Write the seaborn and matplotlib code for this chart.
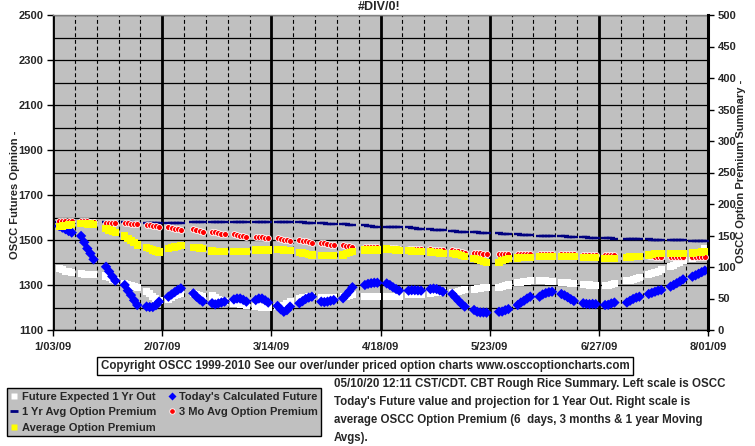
import numpy as np
import pandas as pd
import matplotlib
matplotlib.use("Agg")
import matplotlib.pyplot as plt
from matplotlib.lines import Line2D
import seaborn as sns

# ---------------- data ----------------
first_day = "2009-01-05"
last_day = "2009-07-31"
holidays = ["2009-01-19", "2009-02-16", "2009-04-10", "2009-05-25", "2009-07-03"]

x_major_dates = ["2009-01-03", "2009-02-07", "2009-03-14", "2009-04-18",
                 "2009-05-23", "2009-06-27", "2009-08-01"]
x_tick_labels = ["1/03/09", "2/07/09", "3/14/09", "4/18/09", "5/23/09", "6/27/09", "8/01/09"]

# weekly blocks of daily values (trading days only)
todays_future = [
    [1562, 1555, 1548, 1540, 1533], [1518, 1490, 1462, 1440, 1414], [1381, 1360, 1338, 1319],
    [1300, 1275, 1255, 1232, 1211], [1204, 1202, 1202, 1210, 1226], [1248, 1258, 1268, 1278, 1285],
    [1263, 1248, 1236, 1226], [1219, 1214, 1218, 1222, 1226], [1236, 1240, 1240, 1234, 1226],
    [1233, 1240, 1240, 1232, 1222], [1207, 1192, 1181, 1188, 1204], [1219, 1228, 1238, 1244, 1248],
    [1226, 1224, 1226, 1230, 1233], [1241, 1256, 1272, 1290], [1300, 1305, 1308, 1310, 1310],
    [1307, 1300, 1290, 1282, 1275], [1275, 1277, 1277, 1276, 1275], [1282, 1284, 1282, 1276, 1270],
    [1260, 1245, 1230, 1216, 1204], [1189, 1181, 1178, 1178, 1177], [1181, 1182, 1188, 1193],
    [1211, 1222, 1230, 1240, 1248], [1248, 1258, 1264, 1268, 1270], [1260, 1254, 1246, 1237, 1229],
    [1219, 1216, 1215, 1216, 1215], [1211, 1212, 1218, 1222], [1222, 1230, 1238, 1244, 1248],
    [1260, 1265, 1270, 1275, 1278], [1293, 1300, 1308, 1316, 1325], [1337, 1343, 1350, 1357, 1364],
]
future_1yr = [
    [1372, 1368, 1362, 1358, 1355], [1350, 1348, 1348, 1348, 1348], [1340, 1333, 1326, 1319],
    [1307, 1303, 1298, 1294, 1290], [1273, 1262, 1250, 1240, 1233], [1236, 1244, 1252, 1258, 1263],
    [1263, 1258, 1252, 1248], [1251, 1244, 1236, 1230, 1226], [1219, 1217, 1215, 1213, 1211],
    [1204, 1203, 1202, 1201, 1200], [1204, 1204, 1210, 1218, 1226], [1241, 1243, 1245, 1247, 1248],
    [1244, 1244, 1244, 1244, 1244], [1248, 1250, 1253, 1256], [1248, 1248, 1248, 1248, 1248],
    [1248, 1249, 1250, 1250, 1251], [1256, 1257, 1258, 1259, 1260], [1263, 1265, 1266, 1268, 1270],
    [1265, 1268, 1272, 1275, 1278], [1281, 1283, 1285, 1288, 1290], [1290, 1293, 1297, 1300],
    [1310, 1312, 1314, 1316, 1318], [1320, 1319, 1318, 1316, 1315], [1312, 1311, 1310, 1308, 1307],
    [1304, 1302, 1300, 1298, 1296], [1296, 1299, 1303, 1307], [1318, 1322, 1326, 1330, 1334],
    [1348, 1352, 1357, 1362, 1367], [1381, 1388, 1395, 1402, 1408], [1419, 1428, 1438, 1450, 1460],
]
prem_1yr = [
    [171, 171, 171, 171, 171], [171, 171, 171, 171, 171], [171, 171, 171, 171],
    [171, 171, 171, 170.5, 170.5], [170, 170, 170, 170, 170], [170, 170, 170.5, 170.5, 170.5],
    [171, 171, 171, 171], [171.5, 171.5, 171.5, 171.5, 171.5], [171.5, 171.5, 171.5, 171.5, 171.5],
    [171.5, 171.5, 171.5, 171.5, 171.5], [171.5, 171.5, 171.5, 171.5, 171.5], [171.5, 171, 170.5, 170.5, 170],
    [170, 169.5, 169, 168.5, 168], [168, 167.5, 167, 166.5], [166, 165.5, 165, 164, 163.5],
    [164, 164, 163.5, 163.5, 163], [163, 162, 161.5, 161, 160.5], [160, 159.5, 159, 158.5, 158],
    [157, 156.5, 156, 155.5, 155], [155, 155, 154.5, 154, 154], [153.5, 153, 152.5, 152],
    [152, 151.5, 151, 151, 150.5], [149.5, 149, 149, 149, 148.7], [149, 148.5, 148, 148, 147.6],
    [147.6, 147, 146.5, 146, 146], [146, 145.5, 145.5, 145], [145, 144.5, 144.5, 144, 144],
    [144, 143.5, 143.5, 143, 143], [143, 143, 143, 143, 143], [142, 142, 142, 142, 142],
]
prem_3mo = [
    [173, 173, 173, 172.5, 172.5], [173, 173, 172.5, 172, 172], [170.5, 170.5, 170, 170],
    [169.5, 169.5, 169, 169, 169], [167, 166, 165, 164.5, 164], [163, 162, 161, 160, 159],
    [160, 158, 156.5, 155], [156, 155, 154, 153, 152.4], [152, 151, 150, 149, 148],
    [148, 147.5, 147, 146.5, 146], [145.5, 144.5, 143.5, 142.5, 142], [143, 142, 141, 140, 138.6],
    [138.6, 137.5, 136.5, 135.5, 135], [135, 134, 133, 132], [132, 131.5, 131.5, 131, 131],
    [130, 130, 129.5, 129.5, 129], [129, 128.5, 128.5, 128, 128], [128, 127.5, 127.5, 127, 127],
    [127, 126, 125, 124, 123], [123, 122.5, 122, 121, 120.6], [120.6, 120.6, 120.6, 120.6],
    [120.6, 120.6, 120.6, 120.6, 120.6], [120.5, 120.5, 120.5, 120.5, 120.5], [120, 120, 120, 120, 120],
    [119.5, 119.5, 119, 119, 119], [118.7, 118.7, 118.7, 118.7], [118, 118, 117.5, 117.5, 117.5],
    [117, 117, 116.5, 116.5, 116.5], [116.5, 116.5, 116.5, 116.5, 116.5], [116.5, 116.5, 116.5, 116.5, 116.5],
]
prem_avg = [
    [164, 165, 166, 166.5, 167], [169.5, 169, 168.5, 168, 167], [161, 159, 157, 155],
    [149, 145.5, 142, 138.5, 135], [131, 129, 127, 125.5, 124], [129.6, 131, 132, 133, 134],
    [131, 130.5, 130, 129], [125.6, 125, 125, 125, 125], [125, 125, 125, 125, 125],
    [127, 127, 127, 127, 127], [128, 127.5, 127, 126.5, 126], [122.8, 122, 121, 120, 119],
    [118, 118, 118, 118, 118], [118.8, 121, 123, 125], [127, 127, 127, 127, 127],
    [128.6, 128, 127.5, 127, 126.5], [126, 125.5, 125, 124.6, 124.6], [124, 123.5, 123, 122, 121.5],
    [121.6, 120.5, 119.5, 118, 117], [114, 112, 110, 108.5, 107.5], [107.5, 110, 112, 114],
    [114.5, 115, 115, 115, 115.5], [116.5, 116.5, 116.5, 116.5, 116.5], [116.5, 116.5, 116.5, 116.5, 116.5],
    [115.5, 115, 115, 115, 115], [114, 114, 114, 114], [115.5, 116, 116.5, 117, 117],
    [119, 120, 121, 121, 121], [121.6, 121.6, 121.6, 121.6, 121.6], [122, 122.5, 123, 124, 124.6],
]

series_names = ["Future Expected 1 Yr Out", "Today's Calculated Future",
                "1 Yr Avg Option Premium", "3 Mo Avg Option Premium", "Average Option Premium"]

title_text = "#DIV/0!"
left_label = "OSCC Futures Opinion -"
right_label = "OSCC Option Premium Summary -"
copyright_text = "Copyright OSCC 1999-2010 See our over/under priced option charts www.osccoptioncharts.com"
note_lines = ["05/10/20 12:11 CST/CDT. CBT Rough Rice Summary. Left scale is OSCC",
              "Today's Future value and projection for 1 Year Out. Right scale is",
              "average OSCC Option Premium (6  days, 3 months & 1 year Moving",
              "Avgs)."]

# ---------------- build table ----------------
days = pd.bdate_range(first_day, last_day)
days = days[~days.isin(pd.to_datetime(holidays))]

def flat(blocks):
    return [v for wk in blocks for v in wk]

df = pd.DataFrame({
    "date": days,
    "fut1yr": flat(future_1yr),
    "today": flat(todays_future),
    "p1yr": flat(prem_1yr),
    "p3mo": flat(prem_3mo),
    "pavg": flat(prem_avg),
})

# ---------------- figure ----------------
sns.set_theme(style="white")
plt.rcParams["font.family"] = ["Liberation Sans", "DejaVu Sans"]
plt.rcParams["font.weight"] = "bold"
FS = 8.0
FS_TXT = 8.3

W, H = 755, 446
fig = plt.figure(figsize=(W / 100, H / 100), dpi=100)
fig.patch.set_facecolor("white")
ax = fig.add_axes([53 / W, 1 - 330 / H, 655 / W, 315 / H])
ax.set_facecolor("#C0C0C0")
ax2 = ax.twinx()

# left axis series
sns.scatterplot(data=df, x="date", y="fut1yr", ax=ax, marker="s", s=26, color="white",
                edgecolor="none", linewidth=0, zorder=3, legend=False)
sns.scatterplot(data=df, x="date", y="today", ax=ax, marker="D", s=28, color="#0000FF",
                edgecolor="none", linewidth=0, zorder=4, legend=False)
# right axis series
sns.scatterplot(data=df, x="date", y="p1yr", ax=ax2, marker="_", s=40, color="#000080",
                linewidth=1.7, zorder=3, legend=False)
sns.scatterplot(data=df, x="date", y="p3mo", ax=ax2, marker="o", s=18, color="#FF0000",
                edgecolor="white", linewidth=0.6, zorder=4, legend=False)
sns.scatterplot(data=df, x="date", y="pavg", ax=ax2, marker="s", s=28, color="#FFFF00",
                edgecolor="none", linewidth=0, zorder=5, legend=False)

xmaj = pd.to_datetime(x_major_dates)
ax.set_xlim(xmaj[0], xmaj[-1])
ax.set_ylim(1100, 2500)
ax2.set_ylim(0, 500)

ax.set_xticks(xmaj)
ax.set_xticklabels(x_tick_labels)
weekly = pd.date_range(xmaj[0], xmaj[-1], freq="7D")
ax.set_xticks([d for d in weekly if d not in set(xmaj)], minor=True)
ax.set_yticks(np.arange(1100, 2501, 200))
ax.set_yticks(np.arange(1200, 2500, 200), minor=True)
ax2.set_yticks(np.arange(0, 501, 50))

ax.set_axisbelow(True)
ax.grid(which="major", axis="x", color="black", lw=2.0)
ax.grid(which="minor", axis="x", color="black", lw=0.8, ls=(0, (3.5, 2.5)))
ax.grid(which="both", axis="y", color="black", lw=0.9)

ax.tick_params(axis="x", which="major", direction="out", length=4, width=1, color="black",
               labelsize=FS, pad=5, bottom=True)
ax.tick_params(axis="x", which="minor", length=0)
ax.tick_params(axis="y", which="major", direction="out", length=4, width=1, color="black",
               labelsize=FS, pad=3, left=True)
ax.tick_params(axis="y", which="minor", length=0)
ax2.tick_params(axis="y", direction="out", length=4, width=1, color="black",
                labelsize=FS, pad=3, right=True)
for lab in ax.get_xticklabels() + ax.get_yticklabels() + ax2.get_yticklabels():
    lab.set_fontweight("bold")

ax.set_xlabel("")
ax.set_ylabel("")
ax2.set_ylabel("")

for s in ["left", "bottom"]:
    ax.spines[s].set_color("black")
    ax.spines[s].set_linewidth(1)
ax.spines["top"].set_color("#808080")
ax.spines["top"].set_linewidth(1)
ax.spines["right"].set_visible(False)
for s in ["left", "bottom", "top"]:
    ax2.spines[s].set_visible(False)
ax2.spines["right"].set_color("black")
ax2.spines["right"].set_linewidth(2.2)

# texts
fig.text(379 / W, 1 - 7.5 / H, title_text, ha="center", va="center", fontsize=9, fontweight="bold")
fig.text(15 / W, 1 - 195 / H, left_label, rotation=90, ha="center", va="center",
         fontsize=FS, fontweight="bold")
fig.text(741 / W, 1 - 171 / H, right_label, rotation=90, ha="center", va="center",
         fontsize=FS, fontweight="bold")
fig.text(365 / W, 1 - 366 / H, copyright_text, ha="center", va="center", fontsize=FS_TXT,
         fontweight="bold",
         bbox=dict(boxstyle="square,pad=0.3", fc="white", ec="black", lw=1))
fig.text(334 / W, 1 - 378 / H, "\n".join(note_lines), ha="left", va="top", fontsize=FS_TXT,
         fontweight="bold", linespacing=1.68)

# legend
handles = [
    Line2D([], [], ls="none", marker="s", ms=5, mfc="white", mec="none"),
    Line2D([], [], ls="none", marker="_", ms=6, mec="#000080", mew=2),
    Line2D([], [], ls="none", marker="s", ms=5, mfc="#FFFF00", mec="none"),
    Line2D([], [], ls="none", marker="D", ms=4, mfc="#0000FF", mec="none"),
    Line2D([], [], ls="none", marker="o", ms=4, mfc="#FF0000", mec="white", mew=0.6),
]
labels = [series_names[0], series_names[2], series_names[4], series_names[1], series_names[3]]
leg = fig.legend(handles, labels, ncol=2, loc="upper left", bbox_to_anchor=(7 / W, 1 - 388 / H),
                 frameon=True, fancybox=False, framealpha=1, facecolor="#C0C0C0",
                 edgecolor="black", borderpad=0.32, handlelength=0.7, handletextpad=0.3,
                 columnspacing=1.05, labelspacing=0.5, prop={"size": 8.0, "weight": "bold"},
                 borderaxespad=0)
leg.get_frame().set_linewidth(1)

fig.savefig("out.png", dpi=100)
